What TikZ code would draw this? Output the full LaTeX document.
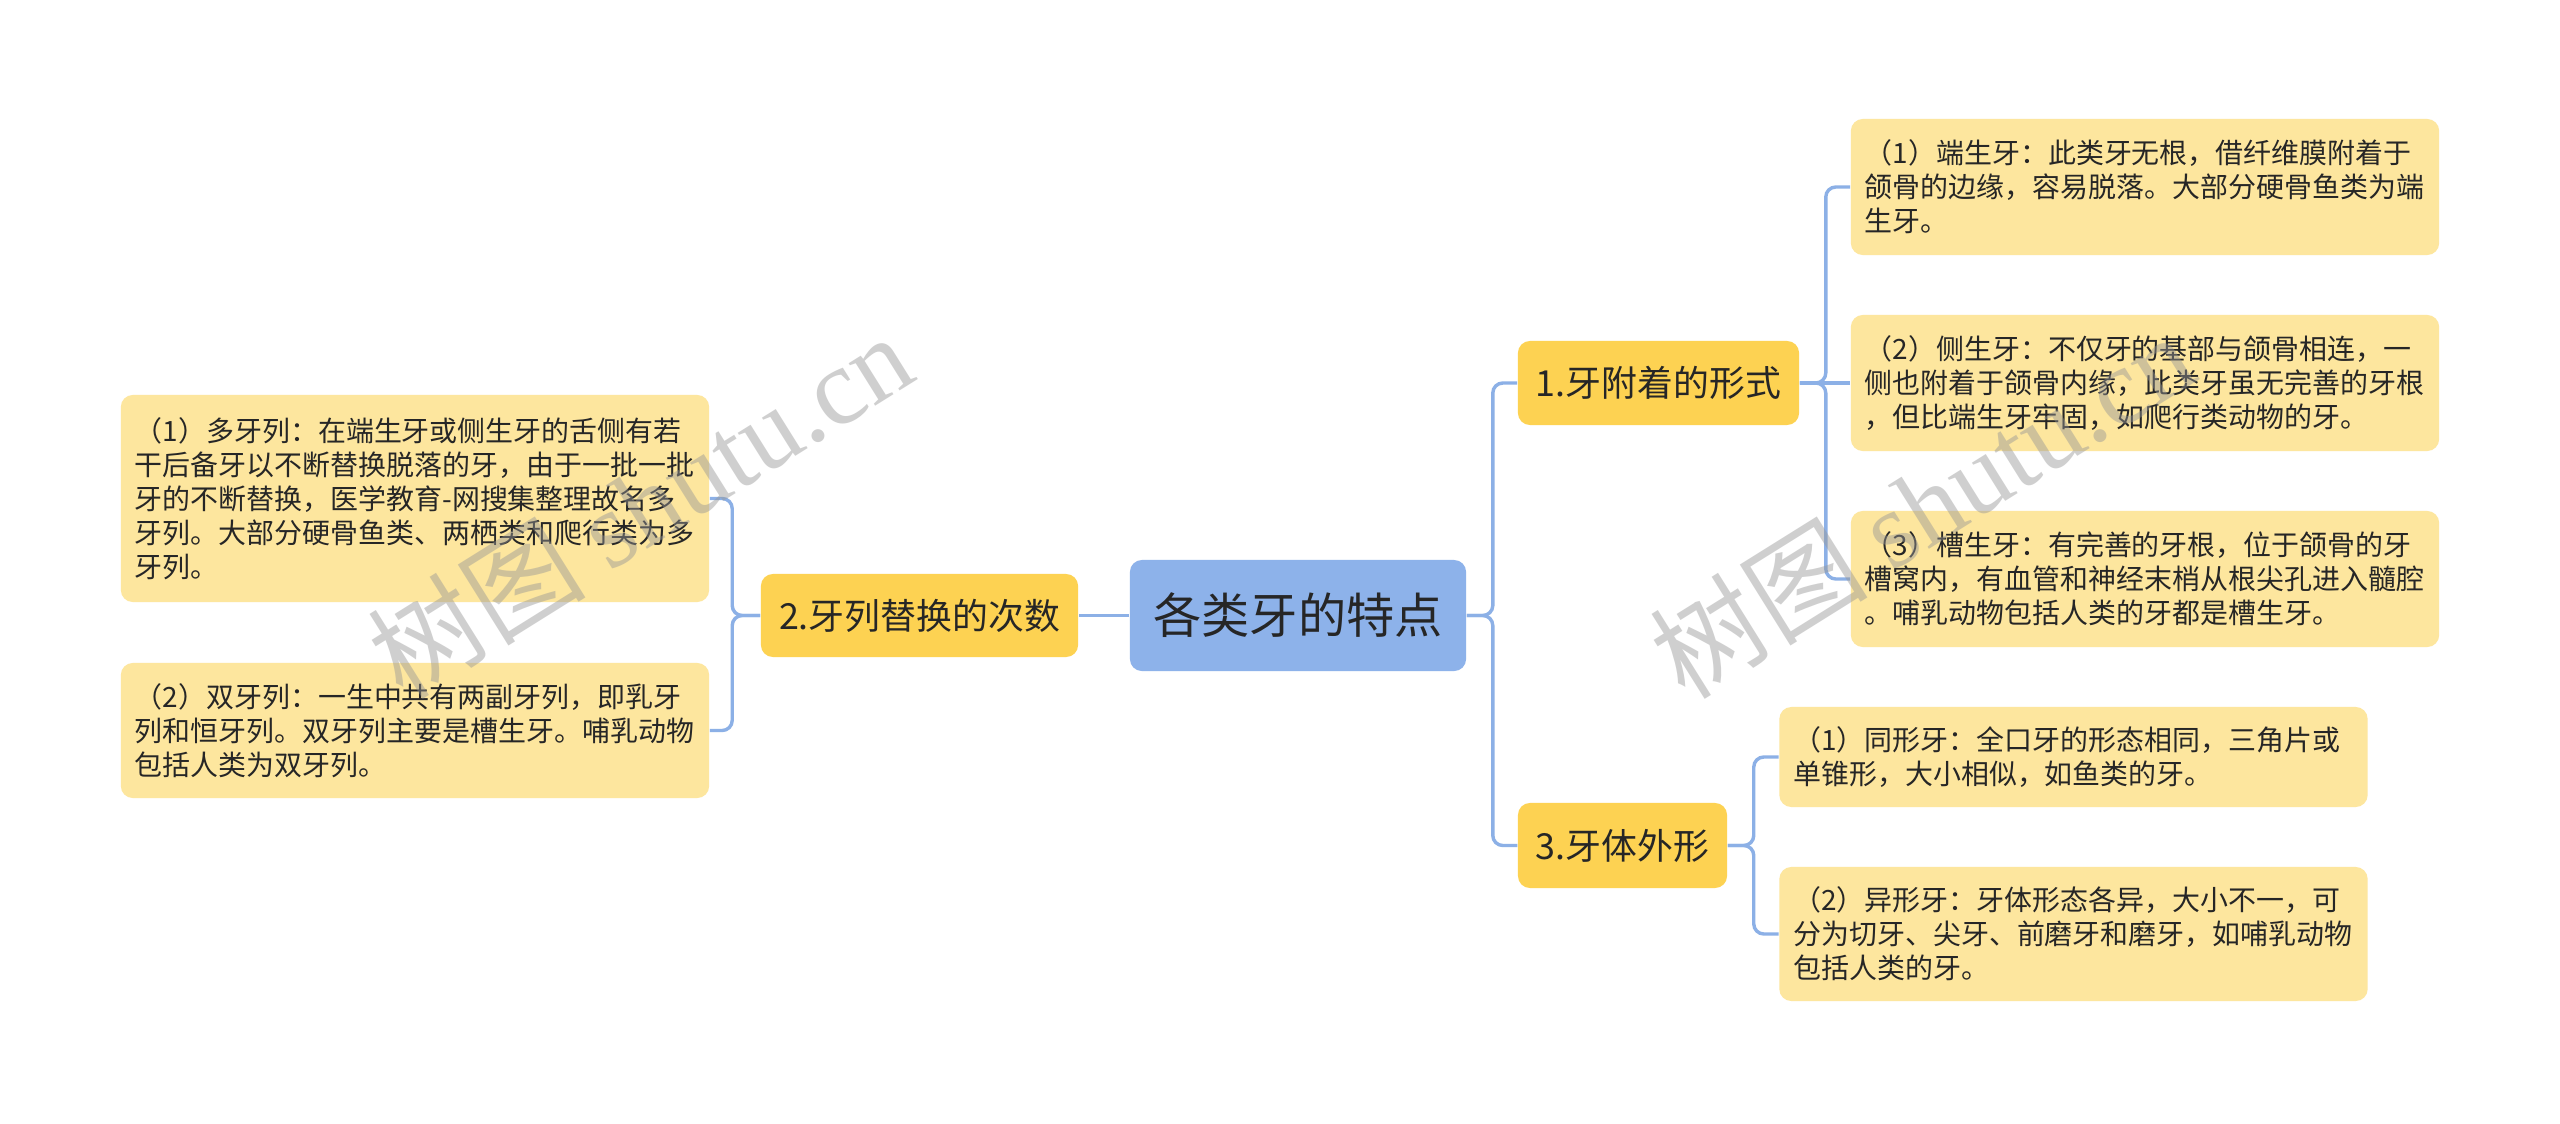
\documentclass[tikz,border=0pt]{standalone}
\usepackage{fontspec}
\setmainfont{Noto Sans CJK SC}
\newfontfamily\wmlatin{Liberation Serif}
\definecolor{linec}{RGB}{140,176,230}
\definecolor{leaffill}{RGB}{253,230,158}
\definecolor{branchfill}{RGB}{253,210,82}
\definecolor{rootfill}{RGB}{141,178,234}
\definecolor{txt}{RGB}{38,38,38}
\definecolor{wm}{RGB}{150,150,150}
\begin{document}
\begin{tikzpicture}[x=0.01cm,y=-0.01cm,
  conn/.style={draw=linec, line width=0.034cm, rounded corners=0.1cm},
  leaf/.style={fill=leaffill, rounded corners=0.12cm, text=txt, align=left,
    text width=5.6cm, inner xsep=0.14cm, inner ysep=0cm,
    font=\fontsize{7.95pt}{9.68pt}\selectfont},
  branch/.style={fill=branchfill, rounded corners=0.12cm, text=txt, inner sep=0pt,
    align=center, font=\fontsize{10.2pt}{12pt}\selectfont},
  rootbox/.style={fill=rootfill, rounded corners=0.12cm, text=txt, inner sep=0pt,
    align=center, font=\fontsize{13.7pt}{16pt}\selectfont},
  wmark/.style={text=wm, opacity=0.45, rotate=32, inner sep=0pt}]
\useasboundingbox (0,0) rectangle (2560,1124);
\fill[white] (0,0) rectangle (2560,1124);

% root and branches
\node[rootbox, minimum width=3.36cm, minimum height=1.11cm] (root) at (1298,615.5) {各类牙的特点};
\node[branch, minimum width=3.17cm, minimum height=0.83cm] (b2) at (919.5,615.5) {2.牙列替换的次数};
\node[branch, minimum width=2.81cm, minimum height=0.84cm] (b1) at (1658.5,383) {1.牙附着的形式};
\node[branch, minimum width=2.09cm, minimum height=0.85cm] (b3) at (1622.5,845.5) {3.牙体外形};

% leaves
\node[leaf, minimum height=2.07cm] (l1) at (415,498.5) {（1）多牙列：在端生牙或侧生牙的舌侧有若\\干后备牙以不断替换脱落的牙，由于一批一批\\牙的不断替换，医学教育-网搜集整理故名多\\牙列。大部分硬骨鱼类、两栖类和爬行类为多\\牙列。};
\node[leaf, minimum height=1.35cm] (l2) at (415,730.5) {（2）双牙列：一生中共有两副牙列，即乳牙\\列和恒牙列。双牙列主要是槽生牙。哺乳动物\\包括人类为双牙列。};
\node[leaf, minimum height=1.36cm] (r1) at (2145,187) {（1）端生牙：此类牙无根，借纤维膜附着于\\颌骨的边缘，容易脱落。大部分硬骨鱼类为端\\生牙。};
\node[leaf, minimum height=1.36cm] (r2) at (2145,383) {（2）侧生牙：不仅牙的基部与颌骨相连，一\\侧也附着于颌骨内缘，此类牙虽无完善的牙根\\，但比端生牙牢固，如爬行类动物的牙。};
\node[leaf, minimum height=1.36cm] (r3) at (2145,579) {（3）槽生牙：有完善的牙根，位于颌骨的牙\\槽窝内，有血管和神经末梢从根尖孔进入髓腔\\。哺乳动物包括人类的牙都是槽生牙。};
\node[leaf, minimum height=1.00cm] (s1) at (2073.5,757) {（1）同形牙：全口牙的形态相同，三角片或\\单锥形，大小相似，如鱼类的牙。};
\node[leaf, minimum height=1.34cm] (s2) at (2073.5,934) {（2）异形牙：牙体形态各异，大小不一，可\\分为切牙、尖牙、前磨牙和磨牙，如哺乳动物\\包括人类的牙。};

% connectors
\draw[conn] (root.west) -- (b2.east);
\draw[conn] (root.east) -- ++(26,0) |- (b1.west);
\draw[conn] (root.east) -- ++(26,0) |- (b3.west);
\draw[conn] (b2.west) -- ++(-28,0) |- (l1.east);
\draw[conn] (b2.west) -- ++(-28,0) |- (l2.east);
\draw[conn] (b1.east) -- ++(26,0) |- (r1.west);
\draw[conn] (b1.east) -- (r2.west);
\draw[conn] (b1.east) -- ++(26,0) |- (r3.west);
\draw[conn] (b3.east) -- ++(26,0) |- (s1.west);
\draw[conn] (b3.east) -- ++(26,0) |- (s2.west);

% watermarks
\node[wmark] (wm1) at (640,505) {\fontsize{31pt}{31pt}\selectfont 树图 {\wmlatin shutu.cn}};
\node[wmark] (wm2) at (1922,505) {\fontsize{31pt}{31pt}\selectfont 树图 {\wmlatin shutu.cn}};
\end{tikzpicture}
\end{document}
